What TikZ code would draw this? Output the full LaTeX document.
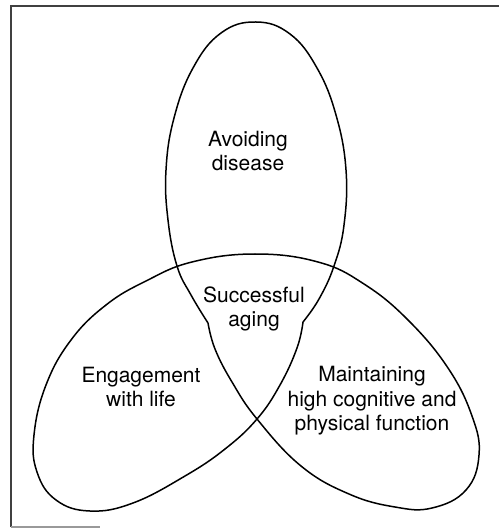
\documentclass[tikz,border=0pt]{standalone}
\usepackage{fontspec}
\setmainfont{TeX Gyre Heros}
\usepackage{tikz}

\tikzset{
	petal/.style={line width=0.75pt, line join=round},
	lbl/.style={align=center, font=\fontsize{10.5}{12.2}\selectfont, inner sep=0pt},
	frame/.style={line width=0.6pt, black!75}
}

\begin{document}
\begin{tikzpicture}[x=0.5pt, y=-0.5pt]
		\useasboundingbox (0,0) rectangle (499,528);

		\draw [frame] (11,527) -- (11,6) -- (499,6);
		\draw [frame, black!40] (11,527) -- (100,527);

		\draw [petal] plot [smooth, tension=0.7] coordinates {
			(208,323) (191,295) (177,266) (168,220) (166,170) (174,118)
			(193,68) (221,33) (256,22) (290,34) (317,68) (336,115) (346,170)
			(344,225) (334,266) (319,299) (303,322)};

		\draw [petal] plot [smooth, tension=0.7] coordinates {
			(303,322) (297,348) (280,385) (257,419) (225,449) (185,476)
			(133,503) (90,511) (56,500) (37,472) (34,435) (46,385) (71,340)
			(106,305) (146,281) (192,262) (255,254) (318,262) (364,284)
			(408,320) (448,368) (472,416) (479,455) (466,490) (432,508)
			(395,507) (349,494) (301,466) (257,419) (232,382) (215,349)
			(208,323)};

		\node [lbl] (avoid) at (248,151) {Avoiding\\disease};
		\node [lbl] (success) at (254,309) {Successful\\aging};
		\node [lbl] (engage) at (141,387) {Engagement\\with life};
		\node [lbl] (maintain) at (372,401) {Maintaining\\high cognitive and\\physical function};
	\end{tikzpicture}
\end{document}
